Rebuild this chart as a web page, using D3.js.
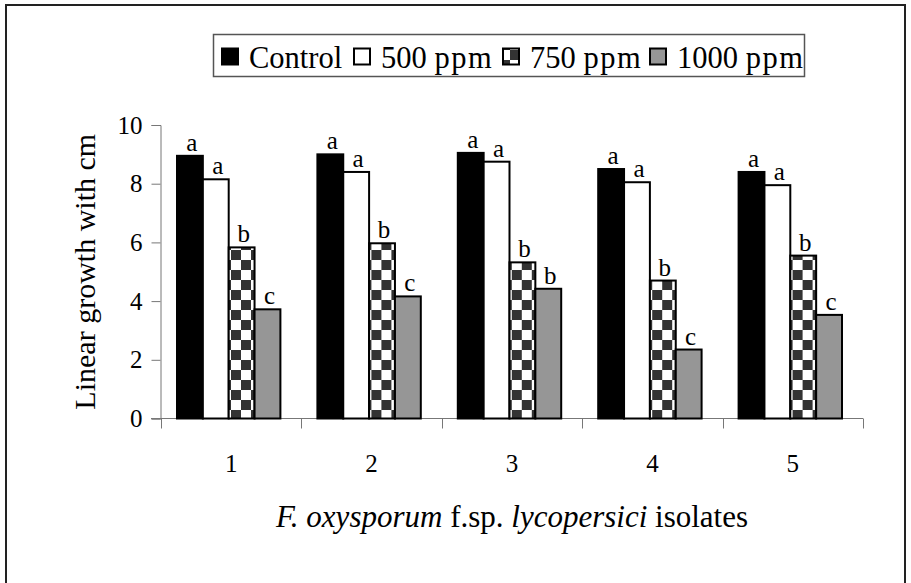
<!DOCTYPE html>
<html>
<head>
<meta charset="utf-8">
<script src="https://cdn.jsdelivr.net/npm/d3@7/dist/d3.min.js"></script>
<style>
  html, body { margin: 0; padding: 0; background: #fff; }
  svg { display: block; font-family: 'Liberation Serif', 'Times New Roman', serif; }
  svg text { font-family: 'Liberation Serif', 'Times New Roman', serif !important; fill: #000; }
</style>
</head>
<body>
<svg id="chart" width="911" height="583"></svg>
<script>
// ---- data ----
const categories = ["1", "2", "3", "4", "5"];
const seriesNames = ["Control", "500", "750", "1000"];
const controlValues = [8.95, 9.0, 9.05, 8.5, 8.4];
const ppm500Values = [8.15, 8.4, 8.75, 8.05, 7.95];
const ppm750Values = [5.83, 5.97, 5.32, 4.7, 5.55];
const ppm1000Values = [3.72, 4.16, 4.42, 2.35, 3.53];
const controlLetters = ["a", "a", "a", "a", "a"];
const ppm500Letters = ["a", "a", "a", "a", "a"];
const ppm750Letters = ["b", "b", "b", "b", "b"];
const ppm1000Letters = ["c", "c", "b", "c", "c"];
const yTicks = [0, 2, 4, 6, 8, 10];

const seriesValues = [controlValues, ppm500Values, ppm750Values, ppm1000Values];
const seriesLetters = [controlLetters, ppm500Letters, ppm750Letters, ppm1000Letters];
const fills = ["#000000", "#ffffff", "url(#checker)", "#969696"];
const SERIF = "'Liberation Serif', 'Times New Roman', serif";

const svg = d3.select("#chart");

// pattern
const defs = svg.append("defs");
const cell = 10;
const pat = defs.append("pattern").attr("id", "checker")
  .attr("patternUnits", "userSpaceOnUse")
  .attr("width", cell * 2).attr("height", cell * 2);
pat.append("rect").attr("width", cell * 2).attr("height", cell * 2).attr("fill", "#fff");
pat.append("rect").attr("x", 0).attr("y", 0).attr("width", cell).attr("height", cell).attr("fill", "#333");
pat.append("rect").attr("x", cell).attr("y", cell).attr("width", cell).attr("height", cell).attr("fill", "#333");

// outer frame
svg.append("rect").attr("x", 6).attr("y", 5).attr("width", 899).attr("height", 600)
  .attr("fill", "none").attr("stroke", "#222").attr("stroke-width", 2);

// scales
const x0 = d3.scaleBand().domain(categories).range([161, 863]).padding(0);
const x1 = d3.scaleBand().domain(d3.range(4)).range([16, 16 + 103.4]).padding(0);
const y = d3.scaleLinear().domain([0, 10]).range([418.5, 125]);

// axes
const yAxis = d3.axisLeft(y).tickValues(yTicks).tickSize(9).tickPadding(9).tickFormat(d3.format("d"));
const gy = svg.append("g").attr("transform", "translate(160.5,0)").call(yAxis);
gy.attr("font-family", null).attr("font-size", null);
gy.select(".domain").attr("stroke", "#777");
gy.selectAll(".tick line").attr("stroke", "#777");
gy.selectAll(".tick text").attr("font-size", 25).style("font-family", SERIF).attr("fill", "#000");

// baseline
svg.append("line").attr("x1", 151).attr("x2", 863).attr("y1", y(0)).attr("y2", y(0))
  .attr("stroke", "#777");
// category boundary ticks
const bounds = categories.map(c => x0(c)).concat([x0.range()[1]]);
svg.selectAll(".ctick").data(bounds).enter().append("line")
  .attr("x1", d => Math.round(d) + 0.5).attr("x2", d => Math.round(d) + 0.5)
  .attr("y1", y(0)).attr("y2", y(0) + 10).attr("stroke", "#777");
// category labels
svg.selectAll(".clab").data(categories).enter().append("text")
  .attr("x", d => x0(d) + x0.bandwidth() / 2).attr("y", 472)
  .attr("text-anchor", "middle").attr("font-size", 25).style("font-family", SERIF).text(d => d);

// bars
const groups = svg.selectAll(".grp").data(categories).enter().append("g")
  .attr("transform", d => `translate(${x0(d)},0)`);
groups.each(function(cat, ci) {
  const g = d3.select(this);
  seriesValues.forEach((vals, si) => {
    const v = vals[ci];
    g.append("rect")
      .attr("x", x1(si)).attr("y", y(v))
      .attr("width", x1.bandwidth()).attr("height", y(0) - y(v))
      .attr("fill", fills[si]).attr("stroke", "#000").attr("stroke-width", 2);
    g.append("text")
      .attr("x", x1(si) + x1.bandwidth() / 2 + 2).attr("y", y(v) - 5)
      .attr("text-anchor", "middle").attr("font-size", 25).style("font-family", SERIF)
      .text(seriesLetters[si][ci]);
  });
});

// axis titles
svg.append("text").attr("transform", "translate(95," + ((y(0) + y(10)) / 2) + ") rotate(-90)")
  .attr("text-anchor", "middle").attr("font-size", 30).style("font-family", SERIF).text("Linear growth with cm");

const xt = svg.append("text").attr("x", 512).attr("y", 527).attr("text-anchor", "middle")
  .attr("font-size", 31).style("font-family", SERIF);
xt.append("tspan").attr("font-style", "italic").text("F. oxysporum");
xt.append("tspan").text(" f.sp. ");
xt.append("tspan").attr("font-style", "italic").text("lycopersici");
xt.append("tspan").text(" isolates");

// legend
const legend = svg.append("g");
legend.append("rect").attr("x", 213.5).attr("y", 34.5).attr("width", 591).attr("height", 42)
  .attr("fill", "#fff").attr("stroke", "#555").attr("stroke-width", 1.5);
const legendX = [222, 354, 503, 650];
seriesNames.forEach((name, i) => {
  legend.append("rect").attr("x", legendX[i]).attr("y", 48.5).attr("width", 16).attr("height", 16)
    .attr("fill", fills[i]).attr("stroke", "#000").attr("stroke-width", 2);
  const t = legend.append("text").attr("x", legendX[i] + 27).attr("y", 68).attr("font-size", 30.5)
    .style("font-family", SERIF);
  if (i === 0) {
    t.text(name);
  } else {
    t.append("tspan").text(name + " ");
    t.append("tspan").attr("letter-spacing", 1.5).text("ppm");
  }
});
</script>
</body>
</html>
